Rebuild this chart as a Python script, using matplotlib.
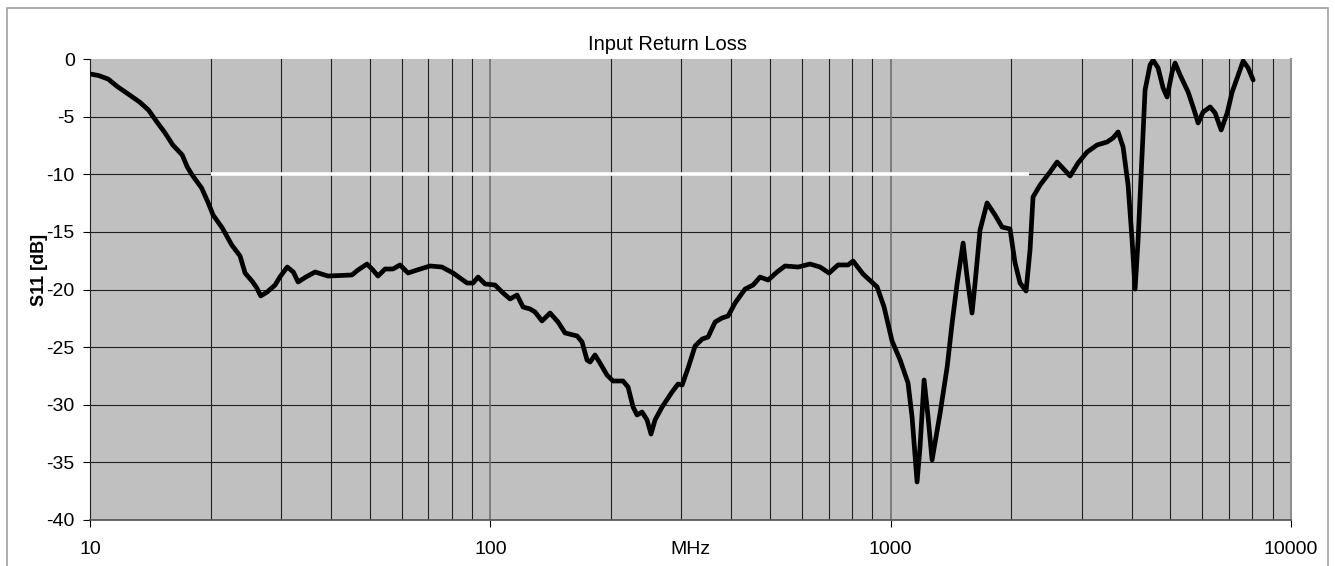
import matplotlib
matplotlib.use("Agg")
import matplotlib.pyplot as plt
from matplotlib.patches import Rectangle
from matplotlib.ticker import FixedLocator, NullFormatter

plt.rcParams['font.family'] = ['Liberation Sans', 'DejaVu Sans']
plt.rcParams['axes.unicode_minus'] = False

# S11 trace (MHz, dB)
freq = [10.0, 10.5, 11.1, 11.7, 12.4, 13.3, 14.0, 14.7, 15.4, 16.1,
        17.0, 17.5, 18.0, 19.0, 19.7, 20.3, 21.4, 22.6, 23.7, 24.4,
        25.5, 26.1, 26.7, 27.7, 29.0, 29.8, 31.1, 32.2, 33.1, 34.6,
        36.5, 39.3, 45.1, 46.7, 49.2, 50.9, 52.4, 54.6, 57.1, 59.5,
        62.3, 65.6, 70.7, 75.7, 80.7, 87.5, 90.5, 93.2, 97.0, 102.7,
        107.6, 112.0, 116.6, 120.7, 125.7, 129.3, 134.6, 141.0, 147.6, 153.7,
        164.7, 169.5, 174.4, 177.5, 182.6, 187.9, 195.6, 202.5, 214.5, 220.8,
        227.3, 232.6, 239.3, 246.3, 252.0, 257.9, 268.5, 284.4, 294.4, 301.3,
        311.9, 324.7, 338.1, 349.9, 364.3, 379.2, 392.6, 408.7, 432.9, 453.3,
        471.8, 494.1, 520.3, 544.8, 587.2, 628.9, 666.2, 701.6, 738.9, 782.7,
        805.6, 853.2, 925.0, 962.8, 1008, 1056, 1105, 1131, 1164, 1184,
        1212, 1240, 1269, 1329, 1384, 1424, 1466, 1517, 1552, 1597,
        1625, 1672, 1741, 1823, 1898, 1987, 2045, 2105, 2179, 2229,
        2268, 2362, 2502, 2605, 2807, 2939, 3095, 3278, 3472, 3594,
        3699, 3807, 3918, 4009, 4079, 4150, 4246, 4320, 4446, 4524,
        4656, 4792, 4903, 5046, 5134, 5284, 5533, 5695, 5861, 6032,
        6281, 6465, 6692, 6927, 7129, 7337, 7594, 7816, 8044]
s11 = [-1.30, -1.43, -1.74, -2.39, -2.99, -3.73, -4.43, -5.47, -6.42, -7.46,
       -8.33, -9.37, -10.07, -11.19, -12.41, -13.54, -14.66, -16.14, -17.09, -18.57,
       -19.35, -19.87, -20.56, -20.22, -19.61, -18.92, -18.05, -18.48, -19.35, -18.92,
       -18.48, -18.83, -18.74, -18.31, -17.79, -18.31, -18.83, -18.22, -18.22, -17.87,
       -18.57, -18.31, -17.96, -18.05, -18.57, -19.44, -19.44, -18.92, -19.52, -19.61,
       -20.30, -20.82, -20.48, -21.52, -21.69, -21.95, -22.73, -22.04, -22.82, -23.77,
       -24.03, -24.56, -26.12, -26.29, -25.68, -26.38, -27.42, -27.94, -27.94, -28.46,
       -30.20, -30.89, -30.63, -31.32, -32.54, -31.32, -30.20, -28.89, -28.20, -28.29,
       -26.81, -24.90, -24.30, -24.12, -22.82, -22.47, -22.30, -21.17, -19.96, -19.61,
       -18.92, -19.18, -18.48, -17.96, -18.05, -17.79, -18.05, -18.57, -17.87, -17.87,
       -17.53, -18.66, -19.78, -21.52, -24.47, -26.12, -28.11, -31.06, -36.70, -33.67,
       -27.85, -31.06, -34.79, -30.72, -26.72, -22.91, -19.44, -15.97, -18.92, -22.04,
       -19.44, -14.84, -12.49, -13.54, -14.58, -14.75, -17.70, -19.44, -20.13, -16.57,
       -11.97, -10.93, -9.80, -8.94, -10.15, -9.02, -8.07, -7.46, -7.20, -6.85,
       -6.33, -7.64, -10.93, -15.70, -19.96, -15.70, -8.33, -2.69, -0.52, -0.10,
       -0.78, -2.52, -3.30, -1.13, -0.35, -1.39, -2.86, -4.16, -5.55, -4.60,
       -4.16, -4.69, -6.16, -4.69, -2.86, -1.65, -0.17, -0.78, -1.82]

# -10 dB spec line
spec_freq = [20, 2220]
spec_db = [-10, -10]

x_major = [10, 100, 1000, 10000]
x_minor = [m * d for d in (10, 100, 1000) for m in range(2, 10)]
y_ticks = [0, -5, -10, -15, -20, -25, -30, -35, -40]

fig = plt.figure(figsize=(13.35, 5.66), dpi=100)
ax = fig.add_axes([90 / 1335, 1 - 520 / 566, 1201 / 1335, 461 / 566])
ax.set_facecolor('#C0C0C0')

ax.set_xscale('log')
ax.set_xlim(10, 10000)
ax.set_ylim(-40, 0)

# grid: horizontal every 5 dB, vertical at every log step
for y in y_ticks[1:-1]:
    ax.axhline(y, color='#202020', lw=0.8, zorder=1)
for x in x_minor:
    ax.axvline(x, color='#202020', lw=0.8, zorder=1)
for x in (100, 1000):
    ax.axvline(x, color='#707070', lw=1.2, zorder=1)

ax.plot(spec_freq, spec_db, color='white', lw=2.6, solid_capstyle='butt', zorder=2)
ax.plot(freq, s11, color='black', lw=3.4, solid_joinstyle='round',
        solid_capstyle='round', zorder=3)

ax.xaxis.set_major_locator(FixedLocator(x_major))
ax.xaxis.set_minor_locator(FixedLocator(x_minor))
ax.xaxis.set_minor_formatter(NullFormatter())
ax.set_xticklabels(['10', '100', '1000', '10000'])
ax.set_yticks(y_ticks)
ax.tick_params(axis='x', which='major', direction='out', length=5, width=0.8,
               pad=10, labelsize=14, colors='black')
ax.tick_params(axis='x', which='minor', length=0)
ax.tick_params(axis='y', direction='out', length=5, width=0.8, pad=6,
               labelsize=14, colors='black')

ax.spines['top'].set_visible(False)
ax.spines['left'].set_color('#202020')
ax.spines['bottom'].set_color('#505050')
ax.spines['right'].set_color('#909090')
ax.spines['right'].set_linewidth(1.5)
ax.spines['bottom'].set_linewidth(1.2)

fig.text(668 / 1335, 1 - 44 / 566, 'Input Return Loss', ha='center', va='center', fontsize=14.5)
fig.text(690 / 1335, 1 - 550 / 566, 'MHz', ha='center', va='center', fontsize=14)
fig.text(40 / 1335, 1 - 270 / 566, 'S11 [dB]', ha='center', va='center', fontsize=13,
         fontweight='bold', rotation=90)

# outer chart border
fig.patches.append(Rectangle((7 / 1335, -0.1), 1321 / 1335, 1.1 - 8 / 566,
                             transform=fig.transFigure, fill=False,
                             edgecolor='#A0A0A0', lw=1.2))

fig.savefig('out.png', dpi=100)
